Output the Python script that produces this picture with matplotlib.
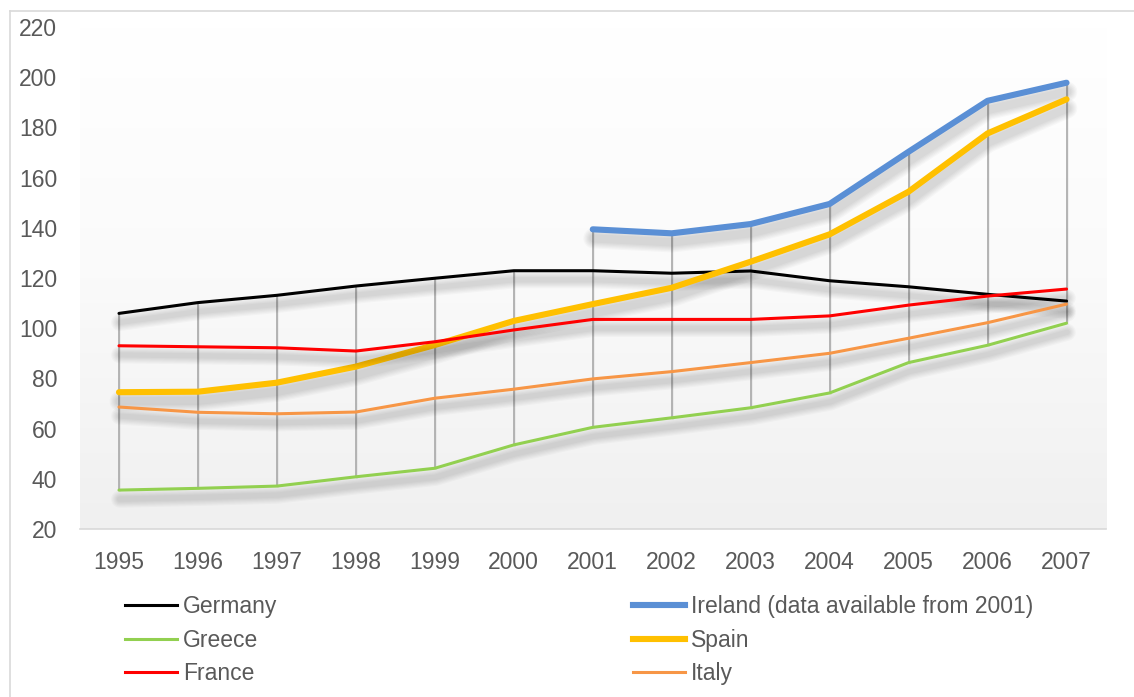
import numpy as np
import matplotlib
matplotlib.use("Agg")
import matplotlib.pyplot as plt
import matplotlib.patheffects as pe
from matplotlib.lines import Line2D
from matplotlib.colors import LinearSegmentedColormap

years = ["1995", "1996", "1997", "1998", "1999", "2000", "2001",
         "2002", "2003", "2004", "2005", "2006", "2007"]
germany = [105.9, 110.2, 113.1, 116.8, 119.9, 122.9, 122.9, 121.9, 122.8, 118.9, 116.5, 113.5, 110.8]
ireland = [np.nan, np.nan, np.nan, np.nan, np.nan, np.nan, 139.4, 137.8, 141.5, 149.5, 170.3, 190.6, 197.8]
greece = [35.5, 36.2, 37.1, 40.8, 44.2, 53.5, 60.5, 64.3, 68.3, 74.2, 86.3, 93.2, 102.0]
spain = [74.5, 74.7, 78.3, 84.7, 93.3, 102.9, 109.6, 116.1, 126.5, 137.4, 154.4, 177.6, 191.2]
france = [93.0, 92.6, 92.2, 90.9, 94.6, 99.3, 103.5, 103.5, 103.5, 104.9, 109.2, 112.8, 115.6]
italy = [68.6, 66.5, 65.9, 66.6, 72.1, 75.7, 79.8, 82.7, 86.3, 90.0, 96.0, 102.2, 109.6]
yticks = [20, 40, 60, 80, 100, 120, 140, 160, 180, 200, 220]

series = [
    ("Germany", germany, "#000000", 2.2),
    ("Ireland (data available from 2001)", ireland, "#5A8FD5", 4.4),
    ("Greece", greece, "#92D050", 2.2),
    ("Spain", spain, "#FFC000", 4.4),
    ("France", france, "#FF0000", 2.2),
    ("Italy", italy, "#F79646", 2.2),
]

plt.rcParams["font.family"] = ["Liberation Sans", "DejaVu Sans"]
txt_col = "#595959"
fs = 16.5

W, H = 1134, 697
fig = plt.figure(figsize=(W / 100, H / 100), dpi=100)
fig.patch.set_facecolor("white")

# chart border (left and top visible)
fig.add_artist(Line2D([10 / W, 10 / W], [0, 1 - 11 / H], color="#d9d9d9", lw=1.2))
fig.add_artist(Line2D([10 / W, 1], [1 - 11 / H, 1 - 11 / H], color="#d9d9d9", lw=1.2))

left, right = 79.5 / W, 1106 / W
bottom, top = 1 - 529 / H, 1 - 27 / H
ax = fig.add_axes([left, bottom, right - left, top - bottom])
ax.set_facecolor("none")

x = np.arange(len(years))
ax.set_xlim(-0.5, len(years) - 0.5)
ax.set_ylim(yticks[0], yticks[-1])

# gradient plot-area background
grad = np.linspace(0, 1, 256).reshape(-1, 1)
cmap = LinearSegmentedColormap.from_list("g", ["#ffffff", "#fafafa", "#f0f0f0"])
ax.imshow(grad, aspect="auto", cmap=cmap, extent=[0, 1, 0, 1], transform=ax.transAxes,
          zorder=0, origin="upper")

# high-low lines
data = np.array([s[1] for s in series], dtype=float)
lo = np.nanmin(data, axis=0)
hi = np.nanmax(data, axis=0)
ax.vlines(x, lo, hi, colors="#a8a8a8", lw=1.2, zorder=1,
          path_effects=[pe.SimpleLineShadow(offset=(1, -1.5), shadow_color="k", alpha=0.05), pe.Normal()])

for name, vals, col, lw in series:
    effects = []
    for k in range(6):
        effects.append(pe.SimpleLineShadow(offset=(0.5, -6.5), shadow_color="k",
                                           alpha=0.024, linewidth=lw + 1.7 * (k + 1)))
    effects.append(pe.Normal())
    ax.plot(x, vals, color=col, lw=lw, solid_capstyle="round", solid_joinstyle="round",
            zorder=3, path_effects=effects)

for s in ["left", "right", "top"]:
    ax.spines[s].set_visible(False)
ax.spines["bottom"].set_color("#d9d9d9")
ax.spines["bottom"].set_linewidth(1.2)
ax.set_xticks(x)
ax.set_xticklabels(years)
ax.set_yticks(yticks)
ax.tick_params(axis="both", length=0, labelsize=fs, labelcolor=txt_col)
ax.tick_params(axis="y", pad=16)
ax.tick_params(axis="x", pad=16)

handles = [Line2D([], [], color=c, lw=l) for _, _, c, l in series]
labels = [n for n, _, _, _ in series]
order = [0, 2, 4, 1, 3, 5]
leg = fig.legend([handles[i] for i in order], [labels[i] for i in order], ncol=2,
                 loc="upper left", bbox_to_anchor=(125 / W, 1 - 595 / H), frameon=False,
                 fontsize=fs, labelcolor=txt_col, handlelength=2.27, handletextpad=0.26,
                 columnspacing=15.5, labelspacing=0.46, borderaxespad=0, borderpad=0)

fig.savefig("out.png", dpi=100, facecolor="white")
